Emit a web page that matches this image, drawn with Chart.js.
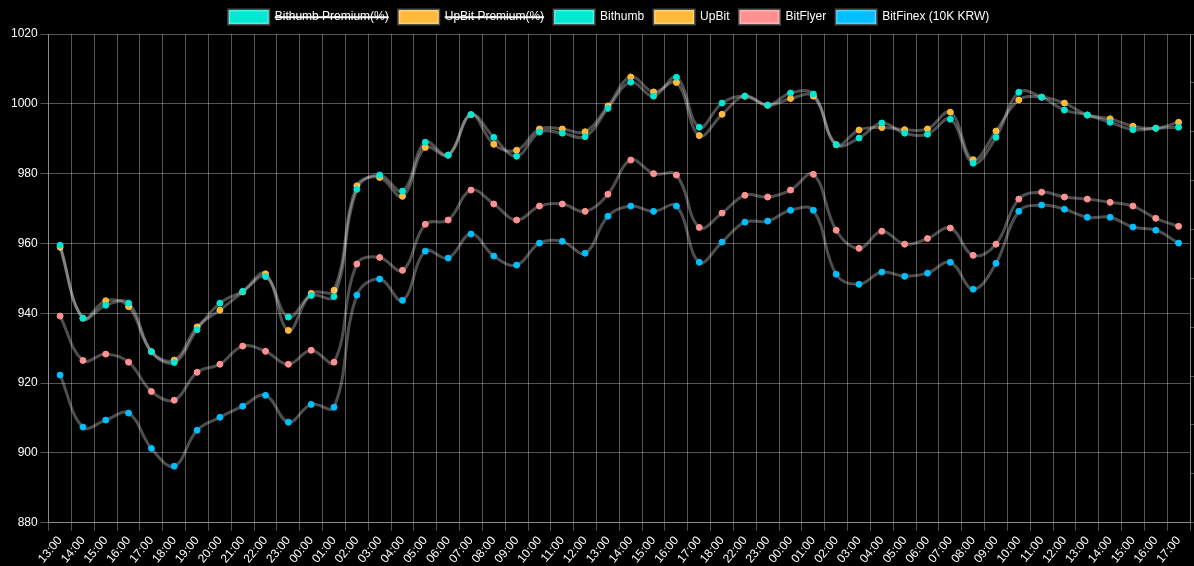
<!DOCTYPE html>
<html>
<head>
<meta charset="utf-8">
<script src="https://cdn.jsdelivr.net/npm/chart.js@4"></script>
<style>
  html, body { margin: 0; padding: 0; background: #000; overflow: hidden; }
  #wrap { width: 1210px; height: 569px; }
</style>
</head>
<body>
<div id="wrap"><canvas id="chart1"></canvas></div>
<script>
var labels = ['13:00','14:00','15:00','16:00','17:00','18:00','19:00','20:00','21:00','22:00',
    '23:00','00:00','01:00','02:00','03:00','04:00','05:00','06:00','07:00','08:00',
    '09:00','10:00','11:00','12:00','13:00','14:00','15:00','16:00','17:00','18:00',
    '22:00','23:00','00:00','01:00','02:00','03:00','04:00','05:00','06:00','07:00',
    '08:00','09:00','10:00','11:00','12:00','13:00','14:00','15:00','16:00','17:00'];

var bithumb = [959.5,938.6,942.3,942.9,929.0,925.9,935.3,942.9,946.3,950.5,
    938.9,945.1,944.8,975.5,979.6,975.0,989.0,985.3,996.9,990.4,
    985.0,991.9,991.6,990.6,998.7,1006.2,1002.2,1007.6,993.3,1000.2,
    1002.2,999.6,1003.1,1002.8,988.3,990.2,994.5,991.6,991.3,995.6,
    983.0,990.4,1003.3,1001.9,998.2,996.8,994.7,992.6,993.0,993.3];

var upbit = [958.9,938.6,943.6,941.9,929.0,926.6,936.1,940.9,946.1,951.3,
    935.1,945.7,946.6,976.5,978.9,973.5,987.5,985.3,996.9,988.4,
    986.7,992.8,992.8,992.0,999.4,1007.7,1003.4,1006.1,990.9,997.0,
    1002.2,999.6,1001.5,1002.2,988.3,992.5,993.2,992.6,992.8,997.6,
    984.0,992.2,1001.1,1001.9,1000.2,996.8,995.7,993.6,993.0,994.7];

var bitflyer = [939.2,926.5,928.3,926.0,917.6,915.1,923.1,925.4,930.6,929.1,
    925.4,929.4,926.0,954.1,956.0,952.3,965.5,966.7,975.3,971.3,
    966.7,970.7,971.3,969.2,974.1,983.9,980.0,979.6,964.6,968.7,
    973.8,973.3,975.3,979.8,963.8,958.6,963.5,959.8,961.4,964.4,
    956.6,959.8,972.7,974.7,973.3,972.7,971.8,970.7,967.2,964.9];

var bitfinex = [922.3,907.4,909.4,911.4,901.3,896.2,906.5,910.2,913.4,916.5,
    908.8,913.9,913.1,945.2,949.8,943.7,957.8,955.8,962.7,956.4,
    953.8,960.1,960.6,957.2,967.8,970.7,969.2,970.7,954.6,960.4,
    966.1,966.4,969.5,969.5,951.2,948.3,951.8,950.6,951.5,954.6,
    946.9,954.3,969.2,971.0,969.8,967.5,967.5,964.7,963.8,960.1];

// premium series are hidden in the legend
var bithumbPremium = [4.03,3.44,3.62,3.46,3.07,3.31,3.18,3.59,3.60,3.71,
    3.31,3.41,3.47,3.21,3.14,3.32,3.26,3.09,3.55,3.56,
    3.27,3.31,3.23,3.49,3.19,3.66,3.41,3.80,4.05,4.14,
    3.74,3.44,3.47,3.43,3.90,4.42,4.49,4.31,4.18,4.29,
    3.81,3.78,3.52,3.18,2.93,3.03,2.81,2.89,3.03,3.46];

var upbitPremium = [3.97,3.44,3.76,3.35,3.07,3.39,3.27,3.37,3.58,3.80,
    2.89,3.48,3.67,3.31,3.06,3.16,3.10,3.09,3.55,3.35,
    3.45,3.41,3.35,3.64,3.26,3.81,3.53,3.65,3.80,3.81,
    3.74,3.44,3.30,3.37,3.90,4.66,4.35,4.42,4.34,4.50,
    3.92,3.97,3.29,3.18,3.13,3.03,2.91,2.99,3.03,3.60];

var gridColor = 'rgba(255,255,255,0.33)';
var lineColor = 'rgba(255,255,255,0.3)';

function makeSet(name, data, color, axis, hidden) {
    return {
        label: name,
        data: data,
        yAxisID: axis,
        hidden: hidden,
        backgroundColor: color,
        borderColor: lineColor,
        borderWidth: 3,
        pointBackgroundColor: color,
        pointBorderColor: color,
        pointBorderWidth: 1,
        pointRadius: 3,
        tension: 0.4,
        fill: false
    };
}

Chart.defaults.font.family = "Arial, 'Liberation Sans', sans-serif";
Chart.defaults.font.size = 12;
Chart.defaults.color = '#fff';

new Chart(document.getElementById('chart1'), {
    type: 'line',
    data: {
        labels: labels,
        datasets: [
            makeSet('Bithumb Premium(%)', bithumbPremium, '#00E8D4', 'y1', true),
            makeSet('UpBit Premium(%)', upbitPremium, '#FFBA3B', 'y1', true),
            makeSet('Bithumb', bithumb, '#00E8D4', 'y', false),
            makeSet('UpBit', upbit, '#FFBA3B', 'y', false),
            makeSet('BitFlyer', bitflyer, '#FF9191', 'y', false),
            makeSet('BitFinex (10K KRW)', bitfinex, '#00BFFF', 'y', false)
        ]
    },
    options: {
        responsive: true,
        maintainAspectRatio: false,
        animation: false,
        layout: {
            padding: { left: 8, right: 0, top: 0, bottom: 0 }
        },
        plugins: {
            legend: {
                labels: { color: '#fff', boxHeight: 14 }
            },
            tooltip: { enabled: false }
        },
        scales: {
            x: {
                offset: true,
                grid: { color: gridColor, offset: true },
                border: { color: gridColor },
                ticks: { color: '#fff', autoSkip: false }
            },
            y: {
                position: 'left',
                min: 880,
                max: 1020,
                grid: { color: gridColor },
                border: { color: gridColor },
                ticks: {
                    color: '#fff',
                    stepSize: 20,
                    callback: function (val) { return String(val); }
                }
            },
            y1: {
                position: 'right',
                grid: { color: gridColor, drawOnChartArea: false, tickLength: 20 },
                border: { color: gridColor },
                ticks: { display: false }
            }
        }
    }
});
</script>
</body>
</html>
